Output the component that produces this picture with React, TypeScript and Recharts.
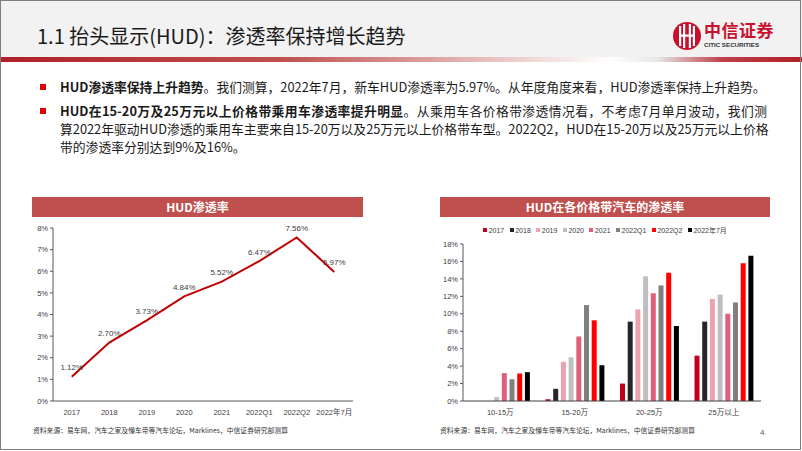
import React from 'react';
import { LineChart, Line, XAxis, YAxis, LabelList, BarChart, Bar, Legend } from 'recharts';

const lineCategories = ['2017', '2018', '2019', '2020', '2021', '2022Q1', '2022Q2', '2022年7月'];
const lineValues = [1.12, 2.7, 3.73, 4.84, 5.52, 6.47, 7.56, 5.97];
const lineTicks = [0, 1, 2, 3, 4, 5, 6, 7, 8];

const priceBands = ['10-15万', '15-20万', '20-25万', '25万以上'];
const barSeriesNames = ['2017', '2018', '2019', '2020', '2021', '2022Q1', '2022Q2', '2022年7月'];
const v2017 = [0, 0.2, 2.0, 5.2];
const v2018 = [0, 1.4, 9.1, 9.1];
const v2019 = [0, 4.5, 10.5, 11.7];
const v2020 = [0.45, 5.0, 14.3, 12.2];
const v2021 = [3.2, 7.4, 12.35, 10.0];
const v2022Q1 = [2.5, 11.0, 13.25, 11.3];
const v2022Q2 = [3.15, 9.25, 14.7, 15.8];
const v2022Jul = [3.3, 4.1, 8.6, 16.65];
const barTicks = [0, 2, 4, 6, 8, 10, 12, 14, 16, 18];
const barColors = ['#C0001C', '#262626', '#EBA3AF', '#BFBFBF', '#E0607C', '#808080', '#FF0000', '#000000'];

const titleText = '1.1 抬头显示(HUD)：渗透率保持增长趋势';
const leftChartTitle = 'HUD渗透率';
const rightChartTitle = 'HUD在各价格带汽车的渗透率';
const sourceText = '资料来源：易车网，汽车之家及懂车帝等汽车论坛，Marklines，中信证券研究部测算';

const CJK = '"Noto Sans CJK SC", "Liberation Sans", sans-serif';
const NUM = '"Liberation Sans", Arial, "Noto Sans CJK SC", sans-serif';

const lineData = lineCategories.map((c, i) => ({ cat: c, v: lineValues[i] }));
const seriesValues = [v2017, v2018, v2019, v2020, v2021, v2022Q1, v2022Q2, v2022Jul];
const barData = priceBands.map((b, j) => {
  const row: any = { band: b };
  seriesValues.forEach((arr, i) => {
    row['s' + i] = arr[j];
  });
  return row;
});

const BarLegend = () => (
  <div style={{ display: 'flex', justifyContent: 'center', alignItems: 'center', height: 14, fontFamily: NUM, fontSize: 7, color: '#404040', whiteSpace: 'nowrap' }}>
    {barSeriesNames.map((n, i) => (
      <span key={n} style={{ display: 'inline-flex', alignItems: 'center', marginRight: i < barSeriesNames.length - 1 ? 5.5 : 0 }}>
        <span style={{ display: 'inline-block', width: 4, height: 4, background: barColors[i], marginRight: 1.5 }} />
        {n}
      </span>
    ))}
  </div>
);

const Logo = () => (
  <div style={{ position: 'absolute', left: 672, top: 20 }}>
    <svg width={30} height={32} style={{ position: 'absolute', left: 0, top: 0 }}>
      <circle cx={15} cy={16} r={14} fill="#C8102E" />
      <rect x={7} y={6} width={2.2} height={20} fill="#fff" />
      <rect x={11} y={4} width={2.2} height={24} fill="#fff" />
      <rect x={16.8} y={4} width={2.2} height={24} fill="#fff" />
      <rect x={20.8} y={6} width={2.2} height={20} fill="#fff" />
      <rect x={7} y={14.5} width={16} height={2.2} fill="#fff" />
    </svg>
    <div style={{ position: 'absolute', left: 32, top: 0, fontFamily: CJK, fontWeight: 700, fontSize: 17, color: '#C8102E', whiteSpace: 'nowrap', letterSpacing: 0.5, lineHeight: '20px' }}>中信证券</div>
    <div style={{ position: 'absolute', left: 32, top: 21, fontFamily: NUM, fontWeight: 700, fontSize: 6.2, color: '#333', whiteSpace: 'nowrap', lineHeight: '8px' }}>CITIC SECURITIES</div>
  </div>
);

const bulletSquare = (top: number) => (
  <div style={{ position: 'absolute', left: 40, top, width: 6, height: 6, background: '#E00000' }} />
);

export default function App() {
  const textBase: React.CSSProperties = {
    position: 'absolute',
    left: 60,
    fontFamily: CJK,
    fontSize: 12.8,
    color: '#1a1a1a',
    whiteSpace: 'nowrap',
    lineHeight: '18px',
  };
  return (
    <div style={{ position: 'absolute', left: 0, top: 0, width: 802, height: 451, background: '#fff', overflow: 'hidden' }}>
      {/* title bar */}
      <div style={{ position: 'absolute', left: 0, top: 0, width: 802, height: 58, background: '#F2F2F2' }} />
      <div style={{ position: 'absolute', left: 0, top: 57, width: 802, height: 5, background: 'linear-gradient(to right, #B0202A 0%, #C0504D 35%, #EBC4C4 62%, #FFFFFF 76%, #E6E6E6 82%, #C04048 90%, #B0202A 100%)' }} />
      <div style={{ position: 'absolute', left: 37, top: 24, fontFamily: CJK, fontSize: 20, color: '#1a1a1a', whiteSpace: 'nowrap', lineHeight: '24px' }}>{titleText}</div>
      <Logo />

      {/* bullets */}
      {bulletSquare(84)}
      <div style={{ ...textBase, top: 78 }}>
        <b>HUD渗透率保持上升趋势</b>。我们测算，2022年7月，新车HUD渗透率为5.97%。从年度角度来看，HUD渗透率保持上升趋势。
      </div>
      {bulletSquare(108)}
      <div style={{ ...textBase, top: 102, width: 707, textAlign: 'justify', textAlignLast: 'justify' }}>
        <b>HUD在15-20万及25万元以上价格带乘用车渗透率提升明显</b>。从乘用车各价格带渗透情况看，不考虑7月单月波动，我们测
      </div>
      <div style={{ ...textBase, top: 120, width: 707, textAlign: 'justify', textAlignLast: 'justify' }}>
        算2022年驱动HUD渗透的乘用车主要来自15-20万以及25万元以上价格带车型。2022Q2，HUD在15-20万以及25万元以上价格
      </div>
      <div style={{ ...textBase, top: 138 }}>带的渗透率分别达到9%及16%。</div>

      {/* chart titles */}
      <div style={{ position: 'absolute', left: 32, top: 197, width: 331, height: 20, background: '#C0504D', color: '#fff', fontFamily: CJK, fontWeight: 700, fontSize: 12, lineHeight: '20px', textAlign: 'center' }}>{leftChartTitle}</div>
      <div style={{ position: 'absolute', left: 440, top: 197, width: 330, height: 20, background: '#C0504D', color: '#fff', fontFamily: CJK, fontWeight: 700, fontSize: 12, lineHeight: '20px', textAlign: 'center' }}>{rightChartTitle}</div>

      {/* left line chart */}
      <div style={{ position: 'absolute', left: 20, top: 215 }}>
        <LineChart width={350} height={205} data={lineData} margin={{ top: 13, right: 17, bottom: 3, left: 0 }}>
          <XAxis
            dataKey="cat"
            height={16}
            interval={0}
            padding={{ left: 18.75, right: 18.75 }}
            tickLine={false}
            axisLine={{ stroke: '#595959' }}
            tick={{ fontSize: 7.5, fill: '#404040', fontFamily: NUM }}
            tickMargin={3}
          />
          <YAxis
            width={33}
            domain={[0, 8]}
            ticks={lineTicks}
            interval={0}
            tickFormatter={(v: number) => v + '%'}
            tickSize={3}
            tickLine={{ stroke: '#595959' }}
            axisLine={{ stroke: '#595959' }}
            tick={{ fontSize: 7.5, fill: '#404040', fontFamily: NUM }}
          />
          <Line dataKey="v" stroke="#C00000" strokeWidth={2} dot={false} isAnimationActive={false}>
            <LabelList
              dataKey="v"
              position="top"
              offset={6.5}
              formatter={(v: any) => Number(v).toFixed(2) + '%'}
              style={{ fontSize: 8, fill: '#404040', fontFamily: NUM }}
            />
          </Line>
        </LineChart>
      </div>

      {/* right bar chart */}
      <div style={{ position: 'absolute', left: 430, top: 222 }}>
        <BarChart width={372} height={198} data={barData} margin={{ top: 8, right: 41, bottom: 3, left: 0 }} barCategoryGap={8} barGap={2.7}>
          <XAxis
            dataKey="band"
            height={16}
            interval={0}
            tickLine={false}
            axisLine={{ stroke: '#404040' }}
            tick={{ fontSize: 7.5, fill: '#404040', fontFamily: NUM }}
            tickMargin={3}
          />
          <YAxis
            width={33}
            domain={[0, 18]}
            ticks={barTicks}
            interval={0}
            tickFormatter={(v: number) => v + '%'}
            tickSize={3}
            tickLine={{ stroke: '#595959' }}
            axisLine={{ stroke: '#595959' }}
            tick={{ fontSize: 7.5, fill: '#404040', fontFamily: NUM }}
          />
          <Legend verticalAlign="top" wrapperStyle={{ top: 1, left: 0, width: 350 }} content={() => <BarLegend />} />
          {barSeriesNames.map((n, i) => (
            <Bar key={n} dataKey={'s' + i} name={n} fill={barColors[i]} isAnimationActive={false} />
          ))}
        </BarChart>
      </div>

      {/* footers */}
      <div style={{ position: 'absolute', left: 33, top: 425, fontFamily: CJK, fontSize: 6.8, color: '#333', whiteSpace: 'nowrap', lineHeight: '10px' }}>{sourceText}</div>
      <div style={{ position: 'absolute', left: 440, top: 425, fontFamily: CJK, fontSize: 6.8, color: '#333', whiteSpace: 'nowrap', lineHeight: '10px' }}>{sourceText}</div>
      <div style={{ position: 'absolute', left: 760, top: 428, fontFamily: NUM, fontSize: 8, color: '#595959', lineHeight: '10px' }}>4</div>

      {/* slide frame */}
      <div style={{ position: 'absolute', left: 0, top: 0, width: 801, height: 450, border: '1px solid #7F7F7F', boxSizing: 'border-box', pointerEvents: 'none' }} />
    </div>
  );
}
